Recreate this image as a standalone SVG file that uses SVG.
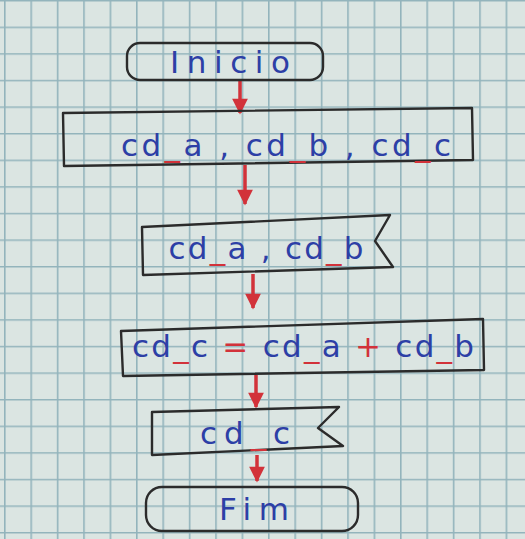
<svg xmlns="http://www.w3.org/2000/svg" width="525" height="539" viewBox="0 0 525 539">
<defs>
<pattern id="grid" x="4" y="0" width="26.4" height="26.6" patternUnits="userSpaceOnUse">
<rect width="26.4" height="26.6" fill="#dbe5e2"/>
<path d="M0.8 0V26.6M0 0.8H26.4" stroke="#93b4bc" stroke-width="1.6"/>
</pattern>
<marker id="ah" viewBox="0 0 10 10" refX="9" refY="5" markerWidth="5.5" markerHeight="4.5" orient="auto" markerUnits="strokeWidth">
<path d="M0 0L10 5L0 10Z" fill="#d2323a"/>
</marker>
<style>
.box{fill:none;stroke:#2b2b2b;stroke-width:2.4;stroke-linejoin:round}
.t{font-family:"DejaVu Sans","Liberation Sans",sans-serif;font-size:31px;fill:#2d3fa6;text-anchor:middle}
.u{fill:#d2323a}
.c{stroke:#d2323a;stroke-width:3.5;fill:none}
</style>
</defs>
<rect width="525" height="539" fill="url(#grid)"/>
<g id="connectors">
<line class="c" x1="240" y1="80" x2="240" y2="113" marker-end="url(#ah)"/>
<line class="c" x1="245" y1="165" x2="245" y2="204" marker-end="url(#ah)"/>
<line class="c" x1="253" y1="274" x2="253" y2="308" marker-end="url(#ah)"/>
<line class="c" x1="256" y1="375" x2="256" y2="407" marker-end="url(#ah)"/>
<line class="c" x1="257" y1="455" x2="257" y2="481" marker-end="url(#ah)"/>
</g>
<g id="inicio">
<rect class="box" x="127" y="43" width="196" height="37" rx="13"/>
<text class="t" x="230" y="73" textLength="120" lengthAdjust="spacing">Inicio</text>
</g>
<g id="declarar">
<path class="box" d="M63 113L472 108L473 160L64 166Z"/>
<text class="t" x="286" y="156" textLength="330" lengthAdjust="spacing">cd<tspan class="u">_</tspan>a , cd<tspan class="u">_</tspan>b , cd<tspan class="u">_</tspan>c</text>
</g>
<g id="leer">
<path class="box" d="M142 227L390 215L375 241L393 267L143 275Z"/>
<text class="t" x="266" y="259" textLength="195" lengthAdjust="spacing">cd<tspan class="u">_</tspan>a , cd<tspan class="u">_</tspan>b</text>
</g>
<g id="sumar">
<path class="box" d="M121 331L483 319L484 370L123 376Z"/>
<text class="t" x="303" y="357" textLength="342" lengthAdjust="spacing">cd<tspan class="u">_</tspan>c <tspan class="u">=</tspan> cd<tspan class="u">_</tspan>a <tspan class="u">+</tspan> cd<tspan class="u">_</tspan>b</text>
</g>
<g id="escribir">
<path class="box" d="M152 412L339 407L318 428L343 446L152 455Z"/>
<text class="t" x="245" y="444" textLength="90" lengthAdjust="spacing">cd<tspan class="u">_</tspan>c</text>
</g>
<g id="fim">
<rect class="box" x="146" y="487" width="212" height="44" rx="16"/>
<text class="t" x="254" y="520" textLength="70" lengthAdjust="spacing">Fim</text>
</g>
</svg>
